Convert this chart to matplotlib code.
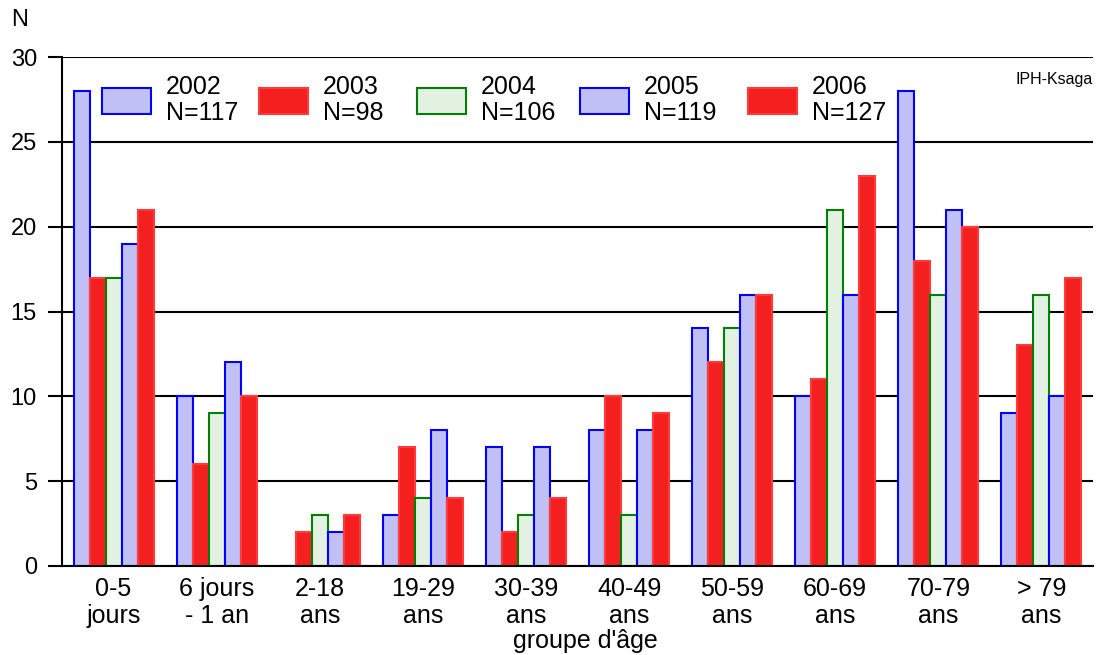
import matplotlib.pyplot as plt
from matplotlib.legend import Legend
import numpy as np

plt.rcParams['font.family'] = ['Liberation Sans', 'DejaVu Sans']

# age groups (x axis)
groups = ['0-5\njours', '6 jours\n- 1 an', '2-18\nans', '19-29\nans', '30-39\nans',
          '40-49\nans', '50-59\nans', '60-69\nans', '70-79\nans', '> 79\nans']

years = ['2002', '2003', '2004', '2005', '2006']
totals = [117, 98, 106, 119, 127]

# counts per year, one value per age group
n2002 = [28, 10, 0, 3, 7, 8, 14, 10, 28, 9]
n2003 = [17, 6, 2, 7, 2, 10, 12, 11, 18, 13]
n2004 = [17, 9, 3, 4, 3, 3, 14, 21, 16, 16]
n2005 = [19, 12, 2, 8, 7, 8, 16, 16, 21, 10]
n2006 = [21, 10, 3, 4, 4, 9, 16, 23, 20, 17]

yticks = [0, 5, 10, 15, 20, 25, 30]

fills = ['#c0c0f4', '#f42020', '#e2f1e2', '#c0c0f4', '#f42020']
edges = ['#0000ff', '#ff3a3a', '#008000', '#0000ff', '#ff3a3a']

# left edge (pixels) of each legend swatch
legend_x = [102, 259, 417, 580, 748]


def main():
    fig = plt.figure(figsize=(10.99, 6.55), dpi=100)
    W, H = 1099, 655
    ax = fig.add_axes([62 / W, 1 - 566 / H, (1093 - 62) / W, (566 - 57) / H])

    x = np.arange(len(groups))
    width = 0.155
    series = [n2002, n2003, n2004, n2005, n2006]
    bars = []
    for i, vals in enumerate(series):
        b = ax.bar(x + (i - 2) * width, vals, width, color=fills[i], edgecolor=edges[i],
                   linewidth=1.5, zorder=3)
        bars.append(b)

    ax.set_xlim(-0.5, 9.5)
    ax.set_ylim(0, 30)
    ax.set_yticks(yticks)
    ax.set_xticks(x)
    ax.set_xticklabels(groups, fontsize=18, linespacing=1.15)
    ax.tick_params(axis='x', length=0, pad=8)
    ax.tick_params(axis='y', length=10, width=1.5, labelsize=17, pad=8, direction='out')

    ax.grid(axis='y', color='black', linewidth=1.5, zorder=0)
    ax.set_axisbelow(True)
    for s in ['top', 'right']:
        ax.spines[s].set_visible(False)
    for s in ['left', 'bottom']:
        ax.spines[s].set_linewidth(1.5)
        ax.spines[s].set_zorder(5)

    # one small legend per year, placed like the original
    for i, b in enumerate(bars):
        leg = Legend(ax, [b], [years[i] + '\nN=' + str(totals[i])],
                     loc='center left', bbox_to_anchor=(legend_x[i] / W, 1 - 100 / H),
                     bbox_transform=fig.transFigure, frameon=False, fontsize=18,
                     handlelength=1.96, handleheight=1.2, handletextpad=0.6,
                     borderpad=0, borderaxespad=0)
        for t in leg.get_texts():
            t.set_linespacing(1.12)
        ax.add_artist(leg)

    ax.text(1.0, (566 - 84) / 509, 'IPH-Ksaga', transform=ax.transAxes, ha='right',
            va='baseline', fontsize=11.5)
    fig.text(20 / W, 1 - 20 / H, 'N', ha='center', va='center', fontsize=17)
    fig.text(585 / W, 1 - 648 / H, "groupe d'âge", ha='center', va='baseline',
             fontsize=18)

    fig.savefig('out.png', dpi=100)


if __name__ == "__main__":
    main()
